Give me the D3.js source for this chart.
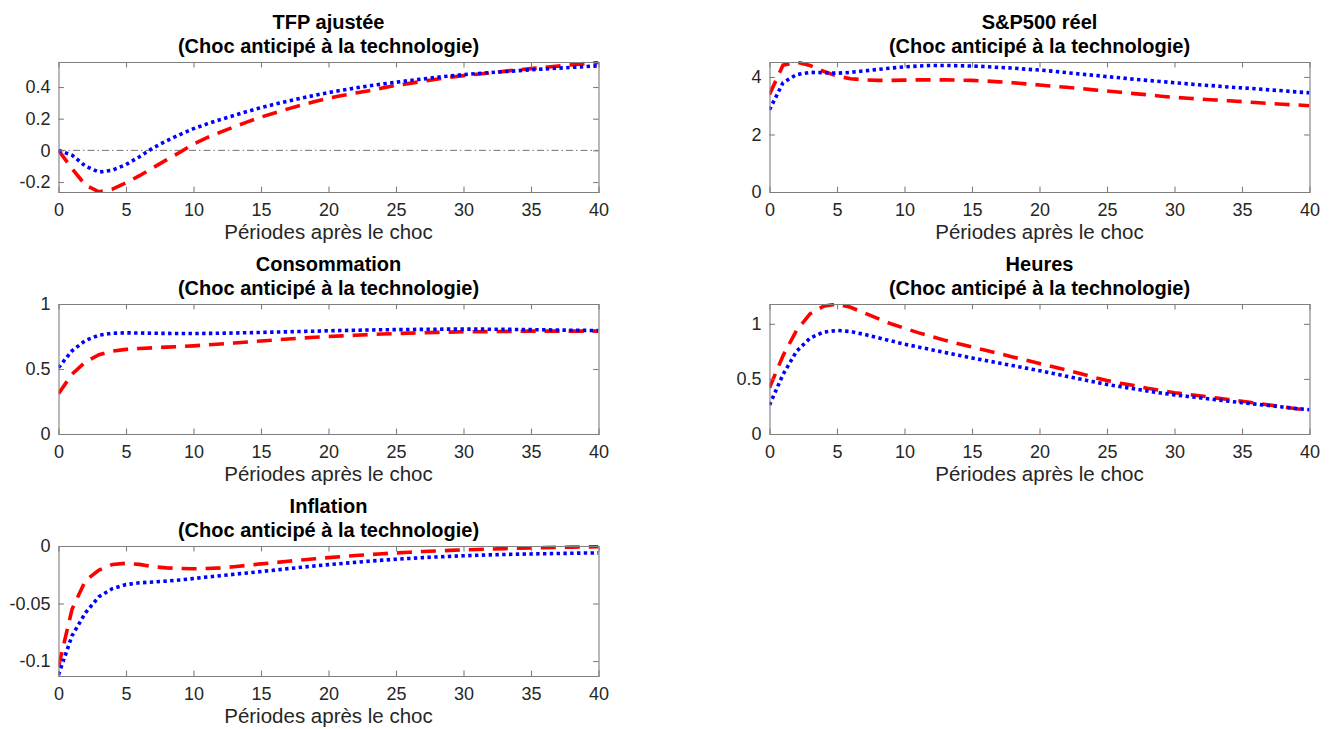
<!DOCTYPE html>
<html>
<head>
<meta charset="utf-8">
<script src="https://cdn.jsdelivr.net/npm/d3@7"></script>
<style>
  html, body { margin: 0; padding: 0; background: #ffffff; }
  svg { display: block; }
  text { font-family: "Liberation Sans", Arial, Helvetica, sans-serif; }
</style>
</head>
<body>
<svg id="fig" width="1338" height="729"></svg>
<script>
// Horizon (periods after the shock)
const periods = d3.range(0, 41);
const xTicks = [0, 5, 10, 15, 20, 25, 30, 35, 40];
const xLabel = "Périodes après le choc";
const subtitle = "(Choc anticipé à la technologie)";

// Panel titles
const titles = ["TFP ajustée", "S&P500 réel", "Consommation", "Heures", "Inflation"];

// Impulse responses: dashed (red) and dotted (blue) models
const tfpDashed = [0, -0.115, -0.22, -0.262, -0.245, -0.205, -0.16, -0.11, -0.06, -0.012, 0.04,
  0.08, 0.115, 0.148, 0.18, 0.21, 0.236, 0.262, 0.286, 0.309, 0.33,
  0.346, 0.362, 0.377, 0.394, 0.41, 0.423, 0.436, 0.449, 0.461, 0.472,
  0.481, 0.49, 0.499, 0.508, 0.516, 0.524, 0.532, 0.54, 0.548, 0.555];
const tfpDotted = [0, -0.03, -0.10, -0.137, -0.125, -0.09, -0.04, 0.015, 0.06, 0.10, 0.137,
  0.167, 0.195, 0.22, 0.246, 0.27, 0.291, 0.311, 0.33, 0.348, 0.365,
  0.38, 0.394, 0.407, 0.419, 0.43, 0.441, 0.451, 0.461, 0.47, 0.478,
  0.485, 0.491, 0.497, 0.503, 0.509, 0.514, 0.519, 0.524, 0.529, 0.534];

const spDashed = [3.39, 4.41, 4.52, 4.40, 4.20, 4.03, 3.94, 3.90, 3.88, 3.88, 3.89,
  3.90, 3.90, 3.90, 3.89, 3.88, 3.86, 3.83, 3.80, 3.76, 3.72,
  3.68, 3.64, 3.60, 3.55, 3.51, 3.47, 3.42, 3.38, 3.33, 3.29,
  3.26, 3.23, 3.20, 3.17, 3.14, 3.11, 3.08, 3.05, 3.03, 3.00];
const spDotted = [2.86, 3.80, 4.08, 4.16, 4.15, 4.13, 4.16, 4.21, 4.26, 4.31, 4.35,
  4.38, 4.40, 4.40, 4.39, 4.38, 4.36, 4.33, 4.31, 4.27, 4.24,
  4.20, 4.15, 4.10, 4.06, 4.01, 3.97, 3.92, 3.88, 3.84, 3.80,
  3.76, 3.72, 3.69, 3.65, 3.62, 3.59, 3.55, 3.52, 3.48, 3.45];

const consDashed = [0.31, 0.46, 0.555, 0.61, 0.637, 0.651, 0.658, 0.663, 0.668, 0.673, 0.678,
  0.685, 0.692, 0.70, 0.708, 0.716, 0.723, 0.731, 0.738, 0.744, 0.75,
  0.755, 0.76, 0.765, 0.769, 0.773, 0.776, 0.779, 0.782, 0.784, 0.786,
  0.787, 0.788, 0.789, 0.79, 0.791, 0.791, 0.791, 0.791, 0.791, 0.791];
const consDotted = [0.51, 0.64, 0.72, 0.76, 0.775, 0.778, 0.777, 0.775, 0.774, 0.773, 0.773,
  0.774, 0.775, 0.777, 0.779, 0.781, 0.784, 0.786, 0.789, 0.791, 0.794,
  0.796, 0.798, 0.80, 0.802, 0.803, 0.804, 0.805, 0.806, 0.807, 0.807,
  0.807, 0.806, 0.805, 0.804, 0.803, 0.801, 0.80, 0.798, 0.797, 0.795];

const hoursDashed = [0.42, 0.71, 0.94, 1.09, 1.16, 1.18, 1.15, 1.10, 1.05, 1.00, 0.96,
  0.92, 0.885, 0.85, 0.82, 0.79, 0.76, 0.73, 0.70, 0.67, 0.64,
  0.61, 0.58, 0.55, 0.515, 0.485, 0.46, 0.44, 0.415, 0.395, 0.375,
  0.36, 0.345, 0.328, 0.313, 0.298, 0.281, 0.264, 0.247, 0.23, 0.214];
const hoursDotted = [0.263, 0.54, 0.75, 0.87, 0.925, 0.94, 0.93, 0.905, 0.875, 0.845, 0.815,
  0.79, 0.765, 0.74, 0.715, 0.69, 0.667, 0.644, 0.621, 0.598, 0.575,
  0.55, 0.524, 0.499, 0.474, 0.45, 0.43, 0.41, 0.39, 0.372, 0.355,
  0.341, 0.327, 0.312, 0.298, 0.284, 0.271, 0.258, 0.245, 0.232, 0.22];

const inflDashed = [-0.105, -0.055, -0.03, -0.021, -0.016, -0.015, -0.016, -0.018, -0.019, -0.0195, -0.0198,
  -0.0195, -0.019, -0.018, -0.0168, -0.0155, -0.0145, -0.0133, -0.0122, -0.0111, -0.0101,
  -0.0092, -0.0083, -0.0075, -0.0067, -0.006, -0.0054, -0.0048, -0.0043, -0.0038, -0.0034,
  -0.003, -0.0026, -0.0023, -0.002, -0.0017, -0.0014, -0.0012, -0.001, -0.0008, -0.0006];
const inflDotted = [-0.112, -0.078, -0.058, -0.044, -0.037, -0.0335, -0.032, -0.0313, -0.0305, -0.0295, -0.0283,
  -0.027, -0.0258, -0.0246, -0.0234, -0.0222, -0.021, -0.0197, -0.0185, -0.0173, -0.0162,
  -0.0152, -0.0142, -0.0132, -0.0123, -0.0115, -0.0108, -0.0101, -0.0095, -0.009, -0.0085,
  -0.0081, -0.0077, -0.0074, -0.0071, -0.0069, -0.0067, -0.0065, -0.0063, -0.0061, -0.006];

// Vertical limits and tick values of each panel
const yLimits = [[-0.263, 0.558], [0, 4.52], [0, 1], [0, 1.18], [-0.113, 0]];
const yTickValues = [[-0.2, 0, 0.2, 0.4], [0, 2, 4], [0, 0.5, 1], [0, 0.5, 1], [-0.1, -0.05, 0]];
const yTickLabels = [["-0.2", "0", "0.2", "0.4"], ["0", "2", "4"], ["0", "0.5", "1"], ["0", "0.5", "1"], ["-0.1", "-0.05", "0"]];
const zeroLine = [true, false, false, false, false];

const dashedSeries = [tfpDashed, spDashed, consDashed, hoursDashed, inflDashed];
const dottedSeries = [tfpDotted, spDotted, consDotted, hoursDotted, inflDotted];

// Subplot grid: 3 rows x 2 columns
const colLeft = [58.5, 769.5];
const rowTop = [62, 304, 546];
const plotW = 540;
const plotH = 130;
const boxColor = "#7f7f7f";
const textColor = "#262626";
const tickLen = 5.4;

const svg = d3.select("#fig");

titles.forEach((title, i) => {
  const left = colLeft[i % 2];
  const top = rowTop[Math.floor(i / 2)];
  const g = svg.append("g").attr("transform", `translate(${left},${top})`);

  const x = d3.scaleLinear().domain([0, 40]).range([0, plotW]);
  const y = d3.scaleLinear().domain(yLimits[i]).range([plotH, 0]);

  const clipId = "clip" + i;
  g.append("clipPath").attr("id", clipId)
    .append("rect").attr("x", 0).attr("y", -1).attr("width", plotW).attr("height", plotH + 2);

  // Horizontal reference line at zero
  if (zeroLine[i]) {
    g.append("line")
      .attr("x1", 0).attr("x2", plotW)
      .attr("y1", y(0)).attr("y2", y(0))
      .attr("stroke", "#333").attr("stroke-width", 0.7)
      .attr("stroke-dasharray", "7,3,1.5,3");
  }

  const line = d3.line().x((d, k) => x(periods[k])).y(d => y(d));

  const lines = g.append("g").attr("clip-path", `url(#${clipId})`);
  lines.append("path")
    .datum(dashedSeries[i])
    .attr("d", line)
    .attr("fill", "none")
    .attr("stroke", "#ff0000")
    .attr("stroke-width", 3.6)
    .attr("stroke-dasharray", "15,9");
  lines.append("path")
    .datum(dottedSeries[i])
    .attr("d", line)
    .attr("fill", "none")
    .attr("stroke", "#0000ff")
    .attr("stroke-width", 3.6)
    .attr("stroke-dasharray", "3.4,3.4");

  // Axes: ticks pointing inward on all four sides
  const fmtX = d => String(d);
  const bottom = g.append("g").attr("transform", `translate(0,${plotH})`)
    .call(d3.axisBottom(x).tickValues(xTicks).tickFormat(fmtX).tickSize(-tickLen).tickPadding(11));
  const topAx = g.append("g")
    .call(d3.axisTop(x).tickValues(xTicks).tickFormat("").tickSize(-tickLen));
  const yLabels = yTickLabels[i];
  const leftAx = g.append("g")
    .call(d3.axisLeft(y).tickValues(yTickValues[i]).tickFormat((d, k) => yLabels[k]).tickSize(-tickLen).tickPadding(8));
  const rightAx = g.append("g").attr("transform", `translate(${plotW},0)`)
    .call(d3.axisRight(y).tickValues(yTickValues[i]).tickFormat("").tickSize(-tickLen));

  [bottom, topAx, leftAx, rightAx].forEach(a => {
    a.select(".domain").attr("stroke", boxColor).attr("stroke-width", 1.1);
    a.selectAll(".tick line").attr("stroke", boxColor).attr("stroke-width", 1.1);
    a.selectAll(".tick text").attr("fill", textColor).attr("font-size", 18);
  });
  // Remove ticks that would sit on the box edges
  [bottom, topAx].forEach(a => a.selectAll(".tick line").filter(d => d === 0 || d === 40).remove());
  [leftAx, rightAx].forEach(a => a.selectAll(".tick line").filter(d => Math.abs(y(d)) < 0.5 || Math.abs(y(d) - plotH) < 0.5).remove());

  // Titles
  g.append("text")
    .attr("x", plotW / 2).attr("y", -33)
    .attr("text-anchor", "middle")
    .attr("font-size", 20).attr("font-weight", "bold").attr("fill", "#000")
    .text(title);
  g.append("text")
    .attr("x", plotW / 2).attr("y", -9)
    .attr("text-anchor", "middle")
    .attr("font-size", 20).attr("font-weight", "bold").attr("fill", "#000")
    .text(subtitle);

  // x-axis label
  g.append("text")
    .attr("x", plotW / 2).attr("y", plotH + 47)
    .attr("text-anchor", "middle")
    .attr("font-size", 20.5).attr("fill", textColor)
    .text(xLabel);
});
</script>
</body>
</html>
